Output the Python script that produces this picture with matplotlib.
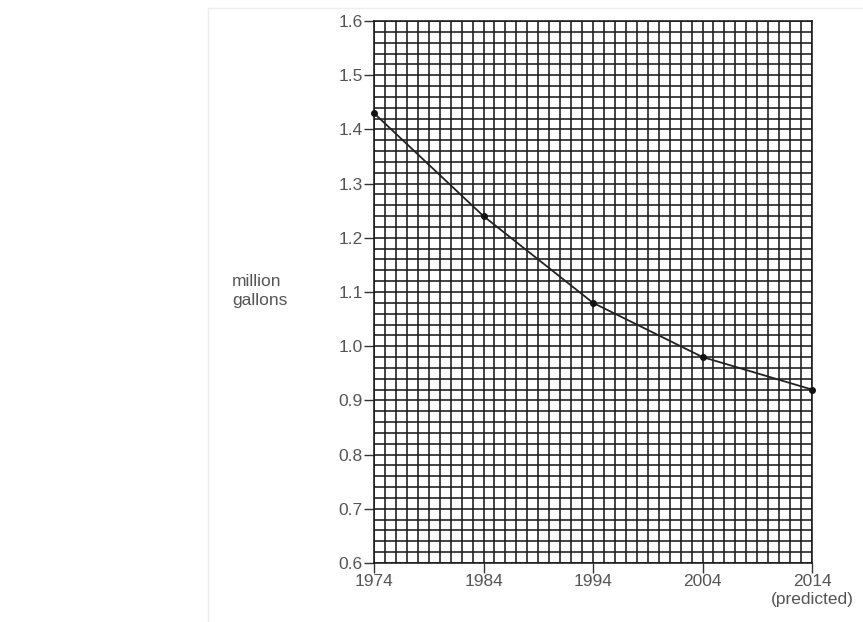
import numpy as np
import matplotlib.pyplot as plt
from matplotlib.ticker import MultipleLocator

# water use, million gallons
years = [1974, 1984, 1994, 2004, 2014]
gallons = [1.43, 1.24, 1.08, 0.98, 0.92]
x_ticks = [1974, 1984, 1994, 2004, 2014]
x_labels = ["1974", "1984", "1994", "2004", "2014\n(predicted)"]
y_ticks = [0.6, 0.7, 0.8, 0.9, 1.0, 1.1, 1.2, 1.3, 1.4, 1.5, 1.6]

plt.rcParams['font.family'] = ['Liberation Sans', 'DejaVu Sans']
TEXT_COL = "#555555"

fig = plt.figure(figsize=(8.63, 6.22), dpi=100)
ax = fig.add_axes([374 / 863, 59 / 622, 438 / 863, 542 / 622])

ax.set_xlim(1974, 2014)
ax.set_ylim(0.6, 1.6)

# graph paper: one column per year, one row per 0.02
ax.xaxis.set_minor_locator(MultipleLocator(1))
ax.yaxis.set_minor_locator(MultipleLocator(0.02))
ax.grid(True, which="both", color="#1a1a1a", linewidth=1.15, zorder=1)
ax.set_axisbelow(True)

ax.plot(years, gallons, color="#222222", linewidth=1.3, zorder=3)
ax.scatter(years, gallons, color="#111111", s=16, zorder=4, clip_on=False)

ax.set_xticks(x_ticks)
ax.set_xticklabels(x_labels, linespacing=1.25)
ax.set_yticks(y_ticks)
ax.set_yticklabels([f"{v:.1f}" for v in y_ticks])
ax.tick_params(which="minor", length=0)
ax.tick_params(which="major", direction="out", length=7, width=1, color="#333333",
               labelsize=12.5, labelcolor=TEXT_COL, pad=1)

for side in ["top", "right", "left", "bottom"]:
    ax.spines[side].set_color("#1a1a1a")
    ax.spines[side].set_linewidth(1.15)

fig.text(232 / 863, 1 - 291 / 622, "million\ngallons", ha="left", va="center",
         fontsize=12.5, color=TEXT_COL, linespacing=1.3)

# faint frame of the scanned page
fig.add_artist(plt.Line2D([208 / 863, 208 / 863], [0, 1 - 8 / 622],
                          transform=fig.transFigure, color="#eeeeee", linewidth=1))
fig.add_artist(plt.Line2D([208 / 863, 1], [1 - 8 / 622, 1 - 8 / 622],
                          transform=fig.transFigure, color="#eeeeee", linewidth=1))

plt.savefig("out.png", dpi=100)
plt.close()
